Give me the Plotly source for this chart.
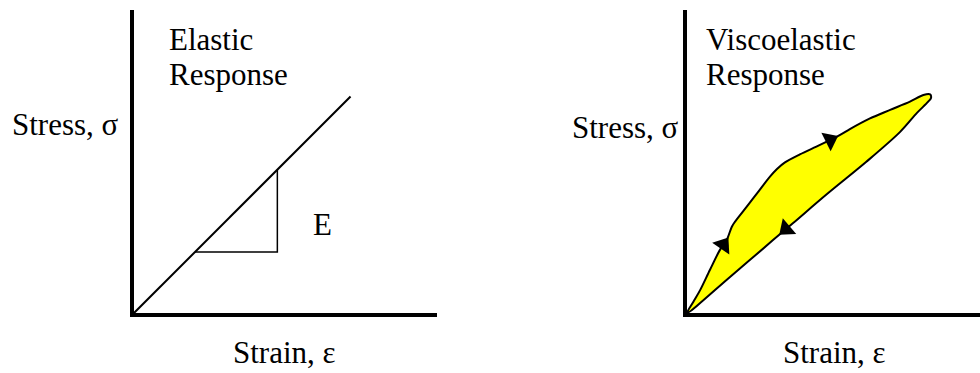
import numpy as np
import plotly.graph_objects as go

W, H = 980, 373

# ---- Elastic response: linear stress-strain line and slope triangle ----
elastic_strain = [0.0, 0.71]
elastic_stress = [0.0, 0.71]
slope_strain = [0.20, 0.47, 0.47]
slope_stress = [0.20, 0.20, 0.47]

# ---- Viscoelastic response: hysteresis loop ----
# loading branch (origin -> maximum strain)
loading_strain = [0.000, 0.021, 0.043, 0.075, 0.108, 0.130, 0.147, 0.157, 0.196,
                  0.234, 0.272, 0.295, 0.320, 0.370, 0.436, 0.502, 0.534, 0.600,
                  0.666, 0.731, 0.775, 0.797, 0.800]
loading_stress = [0.000, 0.037, 0.075, 0.141, 0.207, 0.239, 0.283, 0.299, 0.349,
                  0.398, 0.447, 0.472, 0.493, 0.520, 0.551, 0.584, 0.603, 0.638,
                  0.666, 0.693, 0.715, 0.717, 0.705]
# unloading branch (maximum strain -> origin)
unloading_strain = [0.790, 0.754, 0.698, 0.587, 0.459, 0.348, 0.282, 0.141, 0.000]
unloading_stress = [0.692, 0.656, 0.593, 0.495, 0.390, 0.295, 0.239, 0.118, 0.000]

# direction arrows: (branch, segment start index, fraction along segment)
arrow_marks = [("loading", 4, 0.5), ("loading", 14, 0.5), ("unloading", 5, 0.35)]

FONT = "Liberation Serif, Times New Roman, serif"
FS = 31

fig = go.Figure()

# elastic panel traces
fig.add_trace(go.Scatter(x=elastic_strain, y=elastic_stress, mode="lines",
                         line=dict(color="black", width=2), xaxis="x", yaxis="y",
                         hoverinfo="skip"))
fig.add_trace(go.Scatter(x=slope_strain, y=slope_stress, mode="lines",
                         line=dict(color="black", width=1.5), xaxis="x", yaxis="y",
                         hoverinfo="skip"))

# viscoelastic loop
loop_x = loading_strain + unloading_strain
loop_y = loading_stress + unloading_stress
fig.add_trace(go.Scatter(x=loop_x, y=loop_y, mode="lines", fill="toself",
                         fillcolor="#FFFF00",
                         line=dict(color="black", width=2, shape="spline", smoothing=0.9),
                         xaxis="x2", yaxis="y2", hoverinfo="skip"))

# arrowheads placed along the loop branches, oriented with the segment direction
branches = {"loading": (loading_strain, loading_stress),
            "unloading": (unloading_strain, unloading_stress)}
ax_, ay_, ang_ = [], [], []
for name, i, t in arrow_marks:
    bx, by = branches[name]
    x0, y0, x1, y1 = bx[i], by[i], bx[i + 1], by[i + 1]
    ax_.append(x0 + t * (x1 - x0))
    ay_.append(y0 + t * (y1 - y0))
    ang_.append(float(np.degrees(np.arctan2(x1 - x0, y1 - y0))))
fig.add_trace(go.Scatter(x=ax_, y=ay_, mode="markers",
                         marker=dict(symbol="triangle-up", size=18, color="black",
                                     angle=ang_, line=dict(width=0)),
                         xaxis="x2", yaxis="y2", hoverinfo="skip"))


def px(x):
    return x / W


def py(y):
    return 1 - y / H


def label(text, x, y):
    fig.add_annotation(text=text, x=px(x), y=py(y), xref="paper", yref="paper",
                       xanchor="left", yanchor="middle", showarrow=False,
                       font=dict(family=FONT, size=FS, color="black"))


label("Elastic", 167, 39.5)
label("Response", 167, 74.5)
label("Viscoelastic", 704, 39.5)
label("Response", 704, 74.5)
label("Stress, σ", 10, 124.5)
label("Stress, σ", 570, 127.5)
label("Strain, ε", 231, 352.5)
label("Strain, ε", 781, 352.5)
label("E", 311, 224.5)

axis_style = dict(showline=True, linewidth=3.5, linecolor="black", showgrid=False,
                  zeroline=False, showticklabels=False, ticks="", fixedrange=True)
y_dom = [py(313), py(10)]
fig.update_layout(
    width=W, height=H,
    margin=dict(l=0, r=0, t=0, b=0),
    paper_bgcolor="white", plot_bgcolor="white",
    showlegend=False,
    xaxis=dict(domain=[px(134), px(437)], range=[0, 303 / 305], anchor="y", **axis_style),
    yaxis=dict(domain=y_dom, range=[0, 303 / 305], anchor="x", **axis_style),
    xaxis2=dict(domain=[px(687), 1.0], range=[0, 293 / 305], anchor="y2", **axis_style),
    yaxis2=dict(domain=y_dom, range=[0, 303 / 305], anchor="x2", **axis_style),
)

fig.write_html("out.html")
